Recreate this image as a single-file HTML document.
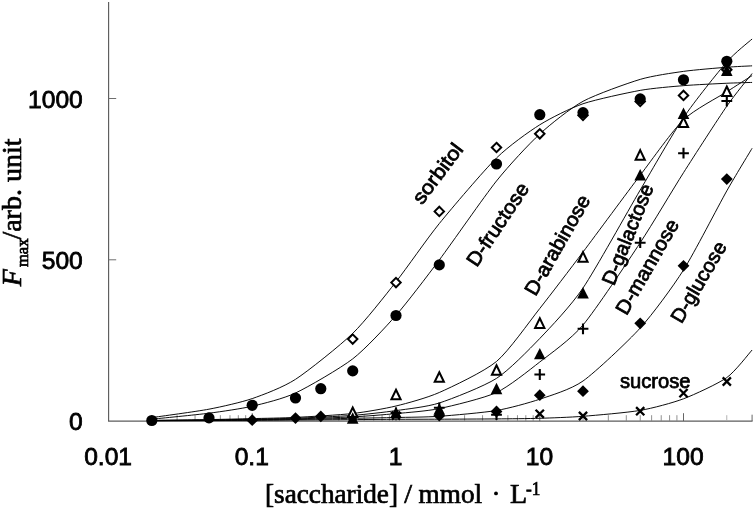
<!DOCTYPE html>
<html><head><meta charset="utf-8"><title>chart</title>
<style>html,body{margin:0;padding:0;background:#fff}svg{display:block;will-change:transform}</style></head>
<body>
<svg width="755" height="511" viewBox="0 0 755 511">
<rect width="100%" height="100%" fill="#fff"/>
<path d="M108.6 2V421.15H752.6" fill="none" stroke="#5c5c5c" stroke-width="1.15"/>
<path d="M108.6 259.80h7.6" stroke="#6e6e6e" stroke-width="1"/>
<path d="M108.6 98.50h7.6" stroke="#6e6e6e" stroke-width="1"/>
<path d="M151.77 421v-5.8" stroke="#858585" stroke-width="0.9"/>
<path d="M177.09 421v-5.8" stroke="#858585" stroke-width="0.9"/>
<path d="M195.05 421v-5.8" stroke="#858585" stroke-width="0.9"/>
<path d="M208.98 421v-5.8" stroke="#858585" stroke-width="0.9"/>
<path d="M220.36 421v-5.8" stroke="#858585" stroke-width="0.9"/>
<path d="M229.98 421v-5.8" stroke="#858585" stroke-width="0.9"/>
<path d="M238.32 421v-5.8" stroke="#858585" stroke-width="0.9"/>
<path d="M245.67 421v-5.8" stroke="#858585" stroke-width="0.9"/>
<path d="M252.25 421v-7.8" stroke="#555" stroke-width="0.9"/>
<path d="M295.52 421v-5.8" stroke="#858585" stroke-width="0.9"/>
<path d="M320.84 421v-5.8" stroke="#858585" stroke-width="0.9"/>
<path d="M338.80 421v-5.8" stroke="#858585" stroke-width="0.9"/>
<path d="M352.73 421v-5.8" stroke="#858585" stroke-width="0.9"/>
<path d="M364.11 421v-5.8" stroke="#858585" stroke-width="0.9"/>
<path d="M373.73 421v-5.8" stroke="#858585" stroke-width="0.9"/>
<path d="M382.07 421v-5.8" stroke="#858585" stroke-width="0.9"/>
<path d="M389.42 421v-5.8" stroke="#858585" stroke-width="0.9"/>
<path d="M396.00 421v-7.8" stroke="#555" stroke-width="0.9"/>
<path d="M439.27 421v-5.8" stroke="#858585" stroke-width="0.9"/>
<path d="M464.59 421v-5.8" stroke="#858585" stroke-width="0.9"/>
<path d="M482.55 421v-5.8" stroke="#858585" stroke-width="0.9"/>
<path d="M496.48 421v-5.8" stroke="#858585" stroke-width="0.9"/>
<path d="M507.86 421v-5.8" stroke="#858585" stroke-width="0.9"/>
<path d="M517.48 421v-5.8" stroke="#858585" stroke-width="0.9"/>
<path d="M525.82 421v-5.8" stroke="#858585" stroke-width="0.9"/>
<path d="M533.17 421v-5.8" stroke="#858585" stroke-width="0.9"/>
<path d="M539.75 421v-7.8" stroke="#555" stroke-width="0.9"/>
<path d="M583.02 421v-5.8" stroke="#858585" stroke-width="0.9"/>
<path d="M608.34 421v-5.8" stroke="#858585" stroke-width="0.9"/>
<path d="M626.30 421v-5.8" stroke="#858585" stroke-width="0.9"/>
<path d="M640.23 421v-5.8" stroke="#858585" stroke-width="0.9"/>
<path d="M651.61 421v-5.8" stroke="#858585" stroke-width="0.9"/>
<path d="M661.23 421v-5.8" stroke="#858585" stroke-width="0.9"/>
<path d="M669.57 421v-5.8" stroke="#858585" stroke-width="0.9"/>
<path d="M676.92 421v-5.8" stroke="#858585" stroke-width="0.9"/>
<path d="M683.50 421v-7.8" stroke="#555" stroke-width="0.9"/>
<path d="M726.77 421v-5.8" stroke="#aaa" stroke-width="0.9"/>
<path d="M752.09 421v-6.3" stroke="#555" stroke-width="0.9"/>
<path d="M151.77 417.60 C158.64 416.59 196.92 411.46 208.98 409.18 C221.03 406.89 241.86 402.17 252.25 398.58 C262.64 395.00 283.47 387.15 295.52 379.32 C307.58 371.50 340.67 345.09 352.73 333.40 C364.78 321.70 385.61 295.03 396.00 281.85 C406.39 268.67 427.22 238.43 439.27 223.57 C451.33 208.71 484.42 169.85 496.48 158.00 C508.53 146.15 529.36 131.31 539.75 124.80 C550.14 118.29 570.97 107.89 583.02 103.76 C595.08 99.63 628.17 92.55 640.23 90.37 C652.28 88.20 673.11 86.51 683.50 85.66 C693.89 84.80 718.54 83.63 726.77 83.25 C735.00 82.86 749.05 82.53 752.09 82.43" fill="none" stroke="#000" stroke-width="0.95"/>
<path d="M151.77 419.20 C158.64 418.48 196.92 414.76 208.98 413.20 C221.03 411.64 241.86 408.62 252.25 406.20 C262.64 403.78 283.47 398.68 295.52 393.00 C307.58 387.32 340.67 368.18 352.73 358.86 C364.78 349.54 385.61 327.22 396.00 315.35 C406.39 303.49 427.22 276.12 439.27 260.00 C451.33 243.88 484.42 196.12 496.48 181.00 C508.53 165.88 529.36 143.56 539.75 134.00 C550.14 124.44 570.97 107.86 583.02 101.30 C595.08 94.75 628.17 82.97 640.23 79.37 C652.28 75.78 673.11 72.84 683.50 71.38 C693.89 69.92 718.54 67.90 726.77 67.24 C735.00 66.57 749.05 66.01 752.09 65.84" fill="none" stroke="#000" stroke-width="0.95"/>
<path d="M151.77 420.40 C158.64 420.30 196.92 419.82 208.98 419.60 C221.03 419.38 241.86 418.86 252.25 418.60 C262.64 418.34 283.47 418.01 295.52 417.40 C307.58 416.79 340.67 414.87 352.73 413.50 C364.78 412.13 385.61 408.52 396.00 406.00 C406.39 403.48 427.22 397.84 439.27 392.50 C451.33 387.16 484.42 371.58 496.48 361.50 C508.53 351.42 529.36 321.64 539.75 308.50 C550.14 295.36 570.97 268.00 583.02 252.00 C595.08 236.00 628.17 191.06 640.23 175.20 C652.28 159.34 673.11 129.81 683.50 119.80 C693.89 109.79 718.54 97.10 726.77 91.80 C735.00 86.50 749.05 77.54 752.09 75.60" fill="none" stroke="#000" stroke-width="0.95"/>
<path d="M151.77 420.50 C158.64 420.44 196.92 420.16 208.98 420.00 C221.03 419.84 241.86 419.42 252.25 419.20 C262.64 418.98 283.47 418.66 295.52 418.20 C307.58 417.74 340.67 416.31 352.73 415.40 C364.78 414.49 385.61 412.09 396.00 410.60 C406.39 409.11 427.22 406.86 439.27 403.00 C451.33 399.14 484.42 386.14 496.48 378.40 C508.53 370.66 529.36 349.35 539.75 338.50 C550.14 327.65 570.97 305.82 583.02 288.00 C595.08 270.18 628.17 210.45 640.23 190.00 C652.28 169.55 673.11 132.96 683.50 117.60 C693.89 102.24 718.54 71.43 726.77 62.00 C735.00 52.57 749.05 41.76 752.09 39.00" fill="none" stroke="#000" stroke-width="0.95"/>
<path d="M151.77 420.60 C158.64 420.55 196.92 420.31 208.98 420.20 C221.03 420.09 241.86 419.86 252.25 419.70 C262.64 419.54 283.47 419.24 295.52 418.90 C307.58 418.56 340.67 417.54 352.73 416.90 C364.78 416.26 385.61 414.60 396.00 413.60 C406.39 412.60 427.22 411.13 439.27 408.60 C451.33 406.07 484.42 398.09 496.48 392.50 C508.53 386.91 529.36 370.10 539.75 362.00 C550.14 353.90 570.97 339.32 583.02 325.00 C595.08 310.68 628.17 260.98 640.23 242.70 C652.28 224.42 673.11 189.08 683.50 172.70 C693.89 156.32 718.54 118.10 726.77 106.20 C735.00 94.30 749.05 77.42 752.09 73.50" fill="none" stroke="#000" stroke-width="0.95"/>
<path d="M151.77 420.70 C158.64 420.66 196.92 420.48 208.98 420.40 C221.03 420.32 241.86 420.11 252.25 420.00 C262.64 419.89 283.47 419.70 295.52 419.50 C307.58 419.30 340.67 418.54 352.73 418.30 C364.78 418.06 385.61 417.74 396.00 417.50 C406.39 417.26 427.22 417.14 439.27 416.30 C451.33 415.46 484.42 412.55 496.48 410.50 C508.53 408.45 529.36 402.74 539.75 399.20 C550.14 395.66 570.97 389.54 583.02 381.00 C595.08 372.46 628.17 341.32 640.23 328.00 C652.28 314.68 673.11 286.45 683.50 270.00 C693.89 253.55 718.54 205.50 726.77 190.90 C735.00 176.30 749.05 153.41 752.09 148.30" fill="none" stroke="#000" stroke-width="0.95"/>
<path d="M151.77 420.70 C158.64 420.69 196.92 420.65 208.98 420.60 C221.03 420.55 241.86 420.37 252.25 420.30 C262.64 420.23 283.47 420.08 295.52 420.00 C307.58 419.92 340.67 419.68 352.73 419.60 C364.78 419.52 385.61 419.35 396.00 419.30 C406.39 419.25 427.22 419.25 439.27 419.20 C451.33 419.15 484.42 419.01 496.48 418.90 C508.53 418.79 529.36 418.61 539.75 418.30 C550.14 417.99 570.97 417.25 583.02 416.30 C595.08 415.35 628.17 412.50 640.23 410.40 C652.28 408.30 673.11 402.74 683.50 398.80 C693.89 394.86 718.54 383.46 726.77 377.60 C735.00 371.74 749.05 353.31 752.09 350.00" fill="none" stroke="#000" stroke-width="0.95"/>
<path d="M352.7 334.4L357.4 339.1L352.7 343.8L348.0 339.1Z" fill="#fff" stroke="#000" stroke-width="2"/>
<path d="M396.0 277.9L400.7 282.6L396.0 287.3L391.3 282.6Z" fill="#fff" stroke="#000" stroke-width="2"/>
<path d="M439.3 206.7L444.0 211.4L439.3 216.1L434.6 211.4Z" fill="#fff" stroke="#000" stroke-width="2"/>
<path d="M496.5 142.8L501.2 147.5L496.5 152.2L491.8 147.5Z" fill="#fff" stroke="#000" stroke-width="2"/>
<path d="M539.8 129.1L544.5 133.8L539.8 138.5L535.0 133.8Z" fill="#fff" stroke="#000" stroke-width="2"/>
<path d="M583.0 110.6L587.7 115.3L583.0 120.0L578.3 115.3Z" fill="#fff" stroke="#000" stroke-width="2"/>
<path d="M640.2 96.8L644.9 101.5L640.2 106.2L635.5 101.5Z" fill="#fff" stroke="#000" stroke-width="2"/>
<path d="M683.5 90.7L688.2 95.4L683.5 100.1L678.8 95.4Z" fill="#fff" stroke="#000" stroke-width="2"/>
<path d="M726.8 65.0L731.5 69.7L726.8 74.4L722.1 69.7Z" fill="#fff" stroke="#000" stroke-width="2"/>
<path d="M391.9 411.5L400.1 419.7M391.9 419.7L400.1 411.5" stroke="#000" stroke-width="2.3" fill="none"/>
<path d="M535.6 409.7L543.9 417.9M535.6 417.9L543.9 409.7" stroke="#000" stroke-width="2.3" fill="none"/>
<path d="M578.9 411.9L587.1 420.1M578.9 420.1L587.1 411.9" stroke="#000" stroke-width="2.3" fill="none"/>
<path d="M636.1 407.1L644.3 415.3M636.1 415.3L644.3 407.1" stroke="#000" stroke-width="2.3" fill="none"/>
<path d="M679.4 389.0L687.6 397.2M679.4 397.2L687.6 389.0" stroke="#000" stroke-width="2.3" fill="none"/>
<path d="M722.7 377.4L730.9 385.6M722.7 385.6L730.9 377.4" stroke="#000" stroke-width="2.3" fill="none"/>
<path d="M252.2 414.3L258.1 420.2L252.2 426.1L246.3 420.2Z" fill="#000"/>
<path d="M295.5 412.2L301.4 418.1L295.5 424.0L289.6 418.1Z" fill="#000"/>
<path d="M320.8 410.5L326.7 416.4L320.8 422.3L314.9 416.4Z" fill="#000"/>
<path d="M352.7 410.6L358.6 416.5L352.7 422.4L346.8 416.5Z" fill="#000"/>
<path d="M439.3 409.8L445.2 415.7L439.3 421.6L433.4 415.7Z" fill="#000"/>
<path d="M496.5 405.6L502.4 411.5L496.5 417.4L490.6 411.5Z" fill="#000"/>
<path d="M539.8 389.3L545.6 395.2L539.8 401.1L533.9 395.2Z" fill="#000"/>
<path d="M583.0 385.3L588.9 391.2L583.0 397.1L577.1 391.2Z" fill="#000"/>
<path d="M640.2 317.4L646.1 323.3L640.2 329.2L634.3 323.3Z" fill="#000"/>
<path d="M683.5 259.9L689.4 265.8L683.5 271.7L677.6 265.8Z" fill="#000"/>
<path d="M726.8 173.2L732.7 179.1L726.8 185.0L720.9 179.1Z" fill="#000"/>
<path d="M390.6 413.0H401.4M396.0 407.6V418.4" stroke="#000" stroke-width="2.1" fill="none"/>
<path d="M433.9 407.8H444.7M439.3 402.4V413.2" stroke="#000" stroke-width="2.1" fill="none"/>
<path d="M491.1 414.7H501.9M496.5 409.3V420.1" stroke="#000" stroke-width="2.1" fill="none"/>
<path d="M534.4 374.5H545.1M539.8 369.1V379.9" stroke="#000" stroke-width="2.1" fill="none"/>
<path d="M577.6 328.8H588.4M583.0 323.4V334.2" stroke="#000" stroke-width="2.1" fill="none"/>
<path d="M634.8 242.7H645.6M640.2 237.3V248.1" stroke="#000" stroke-width="2.1" fill="none"/>
<path d="M678.1 153.2H688.9M683.5 147.8V158.6" stroke="#000" stroke-width="2.1" fill="none"/>
<path d="M721.4 101.0H732.2M726.8 95.6V106.4" stroke="#000" stroke-width="2.1" fill="none"/>
<path d="M352.7 407.5L357.3 417.1L348.1 417.1Z" fill="#fff" stroke="#000" stroke-width="2" stroke-linejoin="miter"/>
<path d="M396.0 389.7L400.6 399.3L391.4 399.3Z" fill="#fff" stroke="#000" stroke-width="2" stroke-linejoin="miter"/>
<path d="M439.3 372.2L443.9 381.8L434.7 381.8Z" fill="#fff" stroke="#000" stroke-width="2" stroke-linejoin="miter"/>
<path d="M496.5 365.2L501.1 374.8L491.9 374.8Z" fill="#fff" stroke="#000" stroke-width="2" stroke-linejoin="miter"/>
<path d="M539.8 318.3L544.4 327.9L535.1 327.9Z" fill="#fff" stroke="#000" stroke-width="2" stroke-linejoin="miter"/>
<path d="M583.0 252.1L587.6 261.7L578.4 261.7Z" fill="#fff" stroke="#000" stroke-width="2" stroke-linejoin="miter"/>
<path d="M640.2 150.1L644.8 159.7L635.6 159.7Z" fill="#fff" stroke="#000" stroke-width="2" stroke-linejoin="miter"/>
<path d="M683.5 117.5L688.1 127.1L678.9 127.1Z" fill="#fff" stroke="#000" stroke-width="2" stroke-linejoin="miter"/>
<path d="M726.8 86.5L731.4 96.1L722.2 96.1Z" fill="#fff" stroke="#000" stroke-width="2" stroke-linejoin="miter"/>
<path d="M352.7 412.3L358.5 423.7L346.9 423.7Z" fill="#000"/>
<path d="M396.0 406.7L401.8 418.1L390.2 418.1Z" fill="#000"/>
<path d="M439.3 403.3L445.1 414.7L433.5 414.7Z" fill="#000"/>
<path d="M496.5 382.8L502.3 394.2L490.7 394.2Z" fill="#000"/>
<path d="M539.8 347.9L545.5 359.3L534.0 359.3Z" fill="#000"/>
<path d="M583.0 287.1L588.8 298.5L577.2 298.5Z" fill="#000"/>
<path d="M640.2 169.0L646.0 180.4L634.4 180.4Z" fill="#000"/>
<path d="M683.5 107.5L689.3 118.9L677.7 118.9Z" fill="#000"/>
<path d="M726.8 64.6L732.6 76.0L721.0 76.0Z" fill="#000"/>
<circle cx="151.8" cy="420.5" r="5.6" fill="#000"/>
<circle cx="209.0" cy="417.9" r="5.6" fill="#000"/>
<circle cx="252.2" cy="405.3" r="5.6" fill="#000"/>
<circle cx="295.5" cy="398.0" r="5.6" fill="#000"/>
<circle cx="320.8" cy="388.7" r="5.6" fill="#000"/>
<circle cx="352.7" cy="370.9" r="5.6" fill="#000"/>
<circle cx="396.0" cy="315.5" r="5.6" fill="#000"/>
<circle cx="439.3" cy="264.9" r="5.6" fill="#000"/>
<circle cx="496.5" cy="164.0" r="5.6" fill="#000"/>
<circle cx="539.8" cy="114.7" r="5.6" fill="#000"/>
<circle cx="583.0" cy="112.6" r="5.6" fill="#000"/>
<circle cx="640.2" cy="98.9" r="5.6" fill="#000"/>
<circle cx="683.5" cy="79.8" r="5.6" fill="#000"/>
<circle cx="726.8" cy="61.3" r="5.6" fill="#000"/>
<g opacity="0.999">
<text x="82.8" y="430.1" text-anchor="end" style="font-family:'Liberation Sans',sans-serif;font-size:24.6px;fill:#000;stroke:#000;stroke-width:0.8px">0</text>
<text x="82.8" y="268.8" text-anchor="end" style="font-family:'Liberation Sans',sans-serif;font-size:24.6px;fill:#000;stroke:#000;stroke-width:0.8px">500</text>
<text x="82.8" y="107.5" text-anchor="end" style="font-family:'Liberation Sans',sans-serif;font-size:24.6px;fill:#000;stroke:#000;stroke-width:0.8px">1000</text>
<text x="108.1" y="464.9" text-anchor="middle" style="font-family:'Liberation Sans',sans-serif;font-size:24.6px;fill:#000;stroke:#000;stroke-width:0.8px">0.01</text>
<text x="251.8" y="464.9" text-anchor="middle" style="font-family:'Liberation Sans',sans-serif;font-size:24.6px;fill:#000;stroke:#000;stroke-width:0.8px">0.1</text>
<text x="395.6" y="464.9" text-anchor="middle" style="font-family:'Liberation Sans',sans-serif;font-size:24.6px;fill:#000;stroke:#000;stroke-width:0.8px">1</text>
<text x="539.4" y="464.9" text-anchor="middle" style="font-family:'Liberation Sans',sans-serif;font-size:24.6px;fill:#000;stroke:#000;stroke-width:0.8px">10</text>
<text x="683.1" y="464.9" text-anchor="middle" style="font-family:'Liberation Sans',sans-serif;font-size:24.6px;fill:#000;stroke:#000;stroke-width:0.8px">100</text>
<text x="265" y="502.8" style="font-family:'Liberation Serif',serif;fill:#000;font-size:28px;stroke:#000;stroke-width:0.7px" textLength="133" lengthAdjust="spacingAndGlyphs">[saccharide]</text>
<text x="404.2" y="502.8" style="font-family:'Liberation Serif',serif;fill:#000;font-size:28px;stroke:#000;stroke-width:0.7px">/</text>
<text x="418.6" y="502.8" style="font-family:'Liberation Serif',serif;fill:#000;font-size:28px;stroke:#000;stroke-width:0.7px" textLength="63.5" lengthAdjust="spacingAndGlyphs">mmol</text>
<circle cx="496" cy="493.4" r="1.9" fill="#000"/>
<text x="510" y="502.8" style="font-family:'Liberation Serif',serif;fill:#000;font-size:28px;stroke:#000;stroke-width:0.7px">L</text>
<text x="525.9" y="494.9" style="font-family:'Liberation Serif',serif;fill:#000;font-size:28px;stroke:#000;stroke-width:0.7px;font-size:19px" textLength="14.4" lengthAdjust="spacingAndGlyphs">-1</text>
<g transform="translate(21.2,0) rotate(-90)">
<text x="-286.2" y="0" style="font-family:'Liberation Serif',serif;fill:#000;font-size:28px;stroke:#000;stroke-width:0.7px;font-style:italic">F</text>
<text x="-267" y="6.8" style="font-family:'Liberation Serif',serif;fill:#000;font-size:28px;stroke:#000;stroke-width:0.7px;font-size:16.5px">max</text>
<text x="-239.6" y="0" style="font-family:'Liberation Serif',serif;fill:#000;font-size:28px;stroke:#000;stroke-width:0.7px">/arb. unit</text>
</g>
<text transform="translate(443.1,177.5) rotate(-53.0)" x="0" y="0" text-anchor="middle" textLength="70.0" lengthAdjust="spacingAndGlyphs" style="font-family:'Liberation Sans',sans-serif;font-size:20px;fill:#000;stroke:#000;stroke-width:0.75px">sorbitol</text>
<text transform="translate(503.3,228.2) rotate(-56.2)" x="0" y="0" text-anchor="middle" textLength="95.5" lengthAdjust="spacingAndGlyphs" style="font-family:'Liberation Sans',sans-serif;font-size:20px;fill:#000;stroke:#000;stroke-width:0.75px">D-fructose</text>
<text transform="translate(563.2,248.4) rotate(-60.2)" x="0" y="0" text-anchor="middle" textLength="112.0" lengthAdjust="spacingAndGlyphs" style="font-family:'Liberation Sans',sans-serif;font-size:20px;fill:#000;stroke:#000;stroke-width:0.75px">D-arabinose</text>
<text transform="translate(634.0,237.0) rotate(-68.0)" x="0" y="0" text-anchor="middle" textLength="107.0" lengthAdjust="spacingAndGlyphs" style="font-family:'Liberation Sans',sans-serif;font-size:20px;fill:#000;stroke:#000;stroke-width:0.75px">D-galactose</text>
<text transform="translate(653.1,270.1) rotate(-60.0)" x="0" y="0" text-anchor="middle" textLength="106.5" lengthAdjust="spacingAndGlyphs" style="font-family:'Liberation Sans',sans-serif;font-size:20px;fill:#000;stroke:#000;stroke-width:0.75px">D-mannose</text>
<text transform="translate(704.4,285.5) rotate(-59.6)" x="0" y="0" text-anchor="middle" textLength="90.5" lengthAdjust="spacingAndGlyphs" style="font-family:'Liberation Sans',sans-serif;font-size:20px;fill:#000;stroke:#000;stroke-width:0.75px">D-glucose</text>
<text transform="translate(655.2,387.8) rotate(0.0)" x="0" y="0" text-anchor="middle" textLength="70.5" lengthAdjust="spacingAndGlyphs" style="font-family:'Liberation Sans',sans-serif;font-size:20px;fill:#000;stroke:#000;stroke-width:0.75px">sucrose</text>
</g>
</svg>
</body></html>
